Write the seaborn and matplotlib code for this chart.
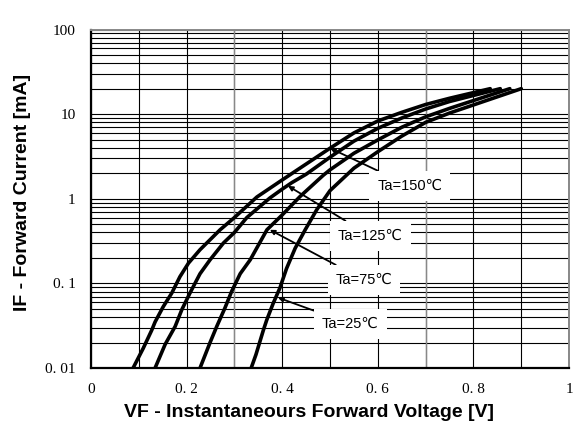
import pandas as pd
import seaborn as sns
import matplotlib.pyplot as plt
import numpy as np
from matplotlib.ticker import LogLocator, NullFormatter

# curve data (VF in V, IF in mA)
vf_150 = [0.088, 0.109, 0.127, 0.134, 0.151, 0.169, 0.186, 0.204, 0.228, 0.27, 0.30, 0.347, 0.40, 0.437, 0.50, 0.55, 0.60, 0.65, 0.70, 0.75, 0.835]
if_150 = [0.01, 0.017, 0.028, 0.035, 0.053, 0.077, 0.12, 0.174, 0.25, 0.43, 0.60, 1.05, 1.67, 2.3, 3.96, 6.0, 8.3, 10.5, 13.0, 15.4, 20]

vf_125 = [0.134, 0.155, 0.176, 0.19, 0.207, 0.228, 0.249, 0.277, 0.30, 0.326, 0.374, 0.40, 0.42, 0.45, 0.50, 0.55, 0.60, 0.65, 0.70, 0.75, 0.856]
if_125 = [0.01, 0.019, 0.031, 0.049, 0.077, 0.13, 0.19, 0.30, 0.40, 0.60, 1.02, 1.3, 1.55, 1.95, 3.1, 4.8, 6.8, 9.0, 11.5, 14.1, 20]

vf_75 = [0.228, 0.249, 0.263, 0.28, 0.294, 0.312, 0.333, 0.368, 0.40, 0.437, 0.486, 0.50, 0.55, 0.60, 0.65, 0.70, 0.75, 0.876]
if_75 = [0.01, 0.02, 0.031, 0.051, 0.08, 0.13, 0.19, 0.43, 0.645, 1.06, 1.9, 2.2, 3.45, 4.96, 7.0, 9.3, 11.7, 20]

vf_25 = [0.335, 0.345, 0.3605, 0.3676, 0.381, 0.395, 0.409, 0.427, 0.448, 0.472, 0.50, 0.55, 0.60, 0.65, 0.70, 0.75, 0.90]
if_25 = [0.01, 0.0144, 0.028, 0.037, 0.058, 0.088, 0.15, 0.26, 0.43, 0.74, 1.25, 2.3, 3.6, 5.5, 8.0, 10.3, 20]

labels = ['Ta=150℃', 'Ta=125℃', 'Ta=75℃', 'Ta=25℃']
# where each label sits and where its arrow points
label_xy = [(0.667, 1.42), (0.584, 0.365), (0.571, 0.11), (0.542, 0.0333)]
arrow_xy = [(0.50, 3.96), (0.412, 1.42), (0.374, 0.43), (0.391, 0.068)]

y_ticks = [0.01, 0.1, 1, 10, 100]
y_ticklabels = ['0. 01', '0. 1', '1', '10', '100']
x_ticks = [0, 0.2, 0.4, 0.6, 0.8, 1.0]
x_ticklabels = ['0', '0. 2', '0. 4', '0. 6', '0. 8', '1']

df = pd.concat([
    pd.DataFrame({'VF': vf_150, 'IF': if_150, 'Ta': labels[0]}),
    pd.DataFrame({'VF': vf_125, 'IF': if_125, 'Ta': labels[1]}),
    pd.DataFrame({'VF': vf_75, 'IF': if_75, 'Ta': labels[2]}),
    pd.DataFrame({'VF': vf_25, 'IF': if_25, 'Ta': labels[3]}),
], ignore_index=True)

sns.set_style('white')
plt.rcParams['font.family'] = ['Liberation Sans', 'DejaVu Sans']
plt.rcParams['text.color'] = 'black'
plt.rcParams['axes.labelcolor'] = 'black'
plt.rcParams['xtick.color'] = 'black'
plt.rcParams['ytick.color'] = 'black'

fig = plt.figure(figsize=(5.76, 4.34), dpi=100)
ax = fig.add_axes([0.158, 0.152, 0.83, 0.78])

sns.lineplot(data=df, x='VF', y='IF', hue='Ta', palette=['black'] * 4,
             estimator=None, sort=False, linewidth=2.6, legend=False, ax=ax, zorder=3)

ax.set_yscale('log')
ax.set_xlim(0, 1)
ax.set_ylim(0.01, 100)

# grid: every 0.1 V, full log decades
serif = ['Liberation Serif', 'DejaVu Serif']
ax.set_xticks(np.arange(0, 1.01, 0.1), minor=True)
ax.set_xticks(x_ticks)
ax.set_xticklabels(x_ticklabels, family=serif, fontsize=11)
ax.set_yticks(y_ticks)
ax.set_yticklabels(y_ticklabels, family=serif, fontsize=11)
ax.yaxis.set_minor_locator(LogLocator(base=10, subs=np.arange(2, 10)))
ax.yaxis.set_minor_formatter(NullFormatter())
ax.tick_params(which='both', length=0)
ax.tick_params(axis='x', pad=11)
ax.tick_params(axis='y', pad=11)

ax.grid(which='both', axis='both', color='black', linewidth=0.8)
for xv in [0.3, 0.7]:
    ax.axvline(xv, color='#888888', linewidth=1.0, zorder=1)
ax.set_axisbelow(True)

for side in ['left', 'bottom']:
    ax.spines[side].set_color('black')
    ax.spines[side].set_linewidth(1.6)
for side in ['top', 'right']:
    ax.spines[side].set_color('#888888')
    ax.spines[side].set_linewidth(1.4)

for lab, txy, axy in zip(labels, label_xy, arrow_xy):
    ax.annotate(lab, xy=axy, xytext=txy, ha='center', va='center', fontsize=10.5,
                bbox=dict(boxstyle='square,pad=0.55', fc='white', ec='none'),
                arrowprops=dict(arrowstyle='-|>', color='black', lw=1.3,
                                mutation_scale=7, shrinkA=0, shrinkB=0),
                zorder=4)

ax.set_xlabel('VF - Instantaneours Forward Voltage [V]', fontsize=14, fontweight='bold')
ax.set_ylabel('IF - Forward Current [mA]', fontsize=14, fontweight='bold')
ax.xaxis.set_label_coords(0.456, -0.105)
ax.yaxis.set_label_coords(-0.125, 0.52)

fig.savefig('out.png', dpi=100)
